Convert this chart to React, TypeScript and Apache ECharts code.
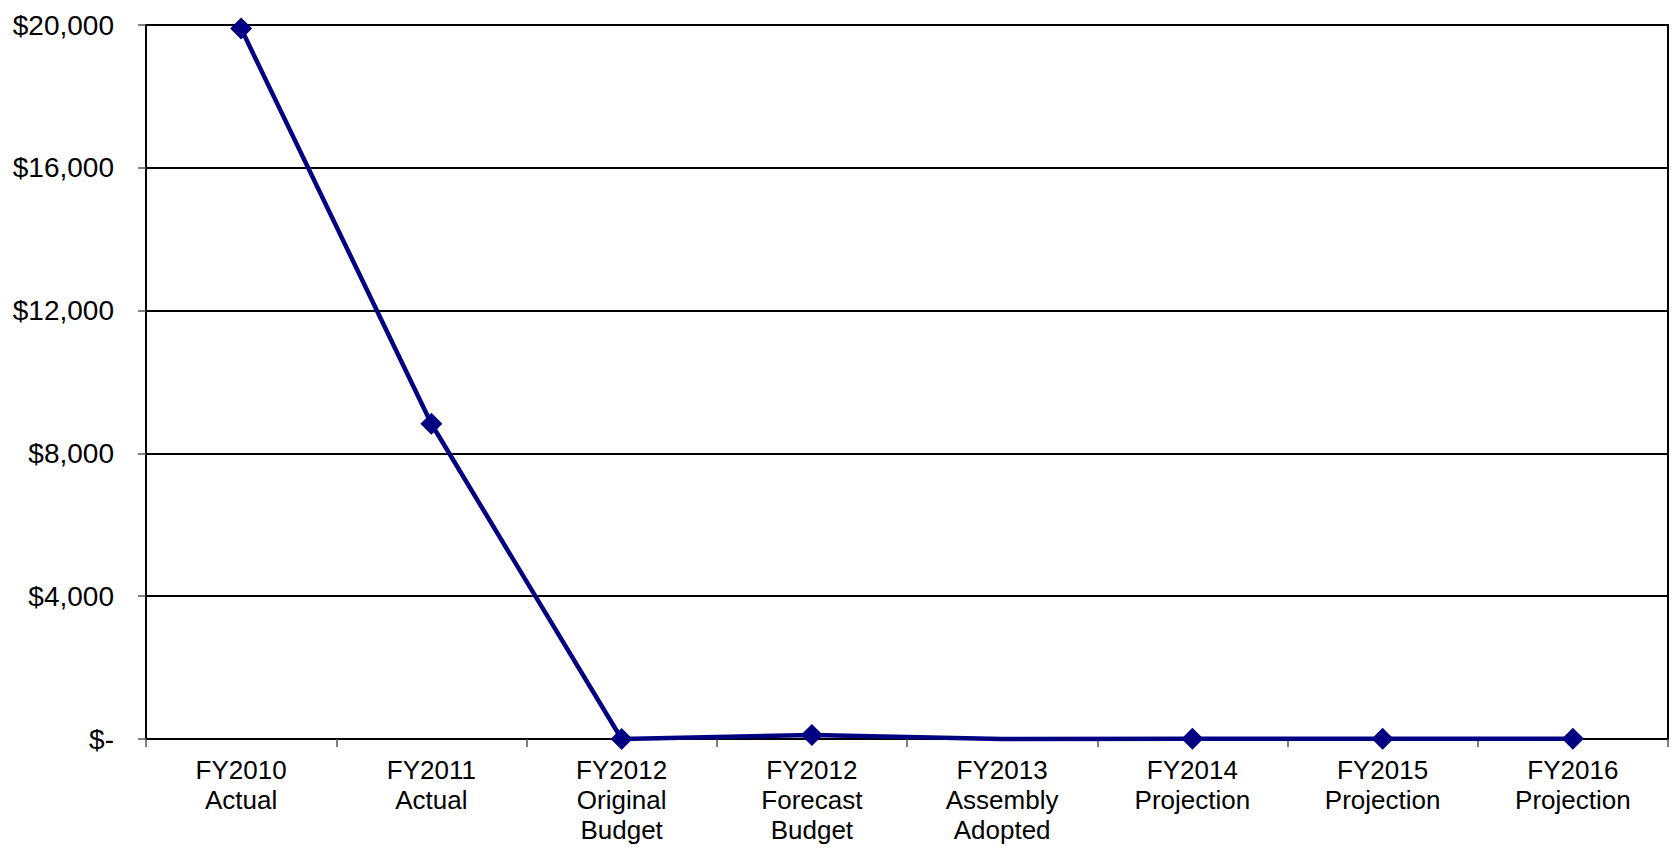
import React, { useEffect, useRef } from "react";
import * as echarts from "echarts";

const categories = [
  "FY2010\nActual",
  "FY2011\nActual",
  "FY2012\nOriginal\nBudget",
  "FY2012\nForecast\nBudget",
  "FY2013\nAssembly\nAdopted",
  "FY2014\nProjection",
  "FY2015\nProjection",
  "FY2016\nProjection",
];
const values = [19900, 8830, 0, 110, 0, 10, 10, 10];
const hiddenMarkers = [4];
const yTicks = [0, 4000, 8000, 12000, 16000, 20000];

export default function App() {
  const ref = useRef<HTMLDivElement>(null);
  useEffect(() => {
    if (!ref.current) return;
    const chart = echarts.init(ref.current, undefined, { renderer: "svg" });
    const font = "'Liberation Sans', Arial, sans-serif";
    chart.setOption({
      animation: false,
      backgroundColor: "#ffffff",
      grid: {
        left: 146,
        right: 10,
        top: 25,
        bottom: 109,
        show: true,
        borderColor: "#000",
        borderWidth: 2,
      },
      xAxis: {
        type: "category",
        data: categories,
        boundaryGap: true,
        axisLine: { show: true, lineStyle: { color: "#000", width: 2 } },
        axisTick: { show: true, length: 8, lineStyle: { color: "#555", width: 1.5 } },
        axisLabel: {
          interval: 0,
          color: "#000",
          fontFamily: font,
          fontSize: 26,
          lineHeight: 30,
          margin: 16,
        },
      },
      yAxis: {
        type: "value",
        min: yTicks[0],
        max: yTicks[yTicks.length - 1],
        interval: 4000,
        axisLine: { show: true, lineStyle: { color: "#000", width: 2 } },
        axisTick: { show: true, length: 8, lineStyle: { color: "#555", width: 1.5 } },
        splitLine: { show: true, lineStyle: { color: "#000", width: 2 } },
        axisLabel: {
          color: "#000",
          fontFamily: font,
          fontSize: 28,
          margin: 32,
          formatter: (v: number) => (v === 0 ? "$-" : "$" + v.toLocaleString("en-US")),
        },
      },
      series: [
        {
          type: "line",
          data: values.map((v, i) =>
            hiddenMarkers.includes(i) ? { value: v, symbol: "none" } : v
          ),
          symbol: "diamond",
          symbolSize: 22,
          showAllSymbol: true,
          itemStyle: { color: "#000080" },
          lineStyle: { color: "#000080", width: 4.5 },
          clip: false,
        },
      ],
    });
    return () => chart.dispose();
  }, []);
  return (
    <div
      ref={ref}
      style={{ position: "fixed", left: 0, top: 0, width: 1678, height: 848 }}
    />
  );
}
